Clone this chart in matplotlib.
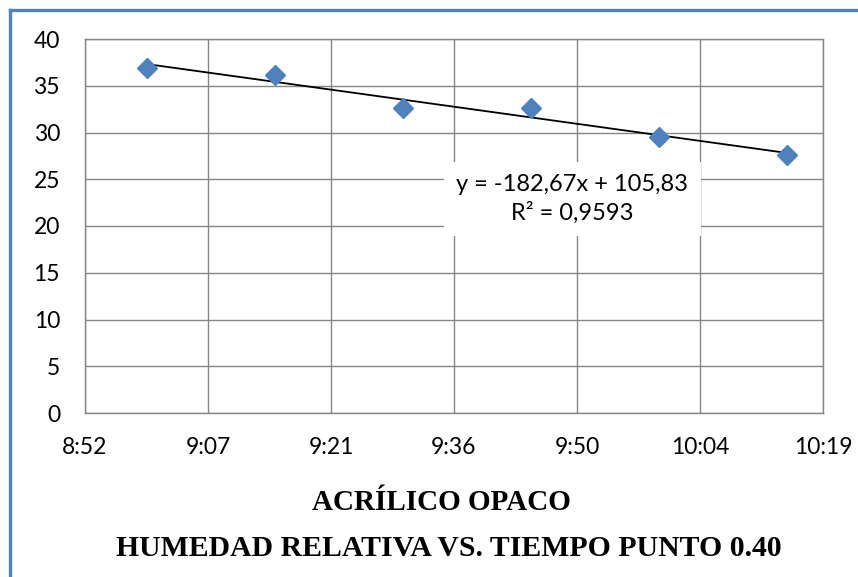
import numpy as np
import matplotlib
matplotlib.use('Agg')
import matplotlib.pyplot as plt
from matplotlib.lines import Line2D

# datos
horas = ['9:00', '9:15', '9:30', '9:45', '10:00', '10:15']
humedad = [36.9, 36.2, 32.6, 32.6, 29.5, 27.6]

# ticks del eje x (fraccion de dia, como en Excel)
x_ticks = [0.37, 0.38, 0.39, 0.40, 0.41, 0.42, 0.43]
x_labels = ['8:52', '9:07', '9:21', '9:36', '9:50', '10:04', '10:19']
y_ticks = [0, 5, 10, 15, 20, 25, 30, 35, 40]

ecuacion = 'y = -182,67x + 105,83'
r2 = 'R² = 0,9593'


def a_dia(h):
    hh, mm = h.split(':')
    return (int(hh) * 60 + int(mm)) / 1440.0


x = np.array([a_dia(h) for h in horas])
y = np.array(humedad)

azul = '#4F81BD'
gris = '#868686'

fig = plt.figure(figsize=(8.58, 5.77), dpi=100)
ax = fig.add_axes([85 / 858, 1 - 413 / 577, (823 - 85) / 858, (413 - 39) / 577])

ax.set_xlim(x_ticks[0], x_ticks[-1])
ax.set_ylim(y_ticks[0], y_ticks[-1])
ax.set_xticks(x_ticks)
ax.set_xticklabels(x_labels)
ax.set_yticks(y_ticks)
ax.grid(True, color=gris, linewidth=1.0)
ax.set_axisbelow(True)
for s in ax.spines.values():
    s.set_color(gris)
    s.set_linewidth(1.0)
ax.tick_params(axis='both', length=0, labelsize=16.5)
ax.tick_params(axis='x', pad=17)
ax.tick_params(axis='y', pad=18)
for lbl in ax.get_xticklabels() + ax.get_yticklabels():
    lbl.set_family('Lato')

# linea de tendencia
m, b = np.polyfit(x, y, 1)
xt = np.array([x[0], x[-1]])
ax.plot(xt, m * xt + b, color='black', linewidth=1.3, zorder=3)

ax.plot(x, y, linestyle='none', marker='D', markersize=10, color=azul,
        markeredgecolor=azul, zorder=4)

# caja con la ecuacion
ax.text(0.4096, 22.9, ecuacion + '\n' + r2, family='Lato', fontsize=17,
        ha='center', va='center', linespacing=1.36, zorder=5,
        bbox=dict(facecolor='white', edgecolor='none', pad=9))

fig.text(441 / 858, 1 - 502 / 577, 'ACRÍLICO OPACO', family='Liberation Serif',
         fontweight='bold', fontsize=21, ha='center', va='center')
fig.text(449 / 858, 1 - 548 / 577, 'HUMEDAD RELATIVA VS. TIEMPO PUNTO 0.40',
         family='Liberation Serif', fontweight='bold', fontsize=21.4,
         ha='center', va='center')

# borde azul del recuadro
fig.add_artist(Line2D([10 / 858, 10 / 858], [0, 1 - 10 / 577],
                      transform=fig.transFigure, color=azul, linewidth=2.4))
fig.add_artist(Line2D([10 / 858, 1], [1 - 10 / 577, 1 - 10 / 577],
                      transform=fig.transFigure, color=azul, linewidth=2.4))

fig.savefig('out.png', dpi=100)
